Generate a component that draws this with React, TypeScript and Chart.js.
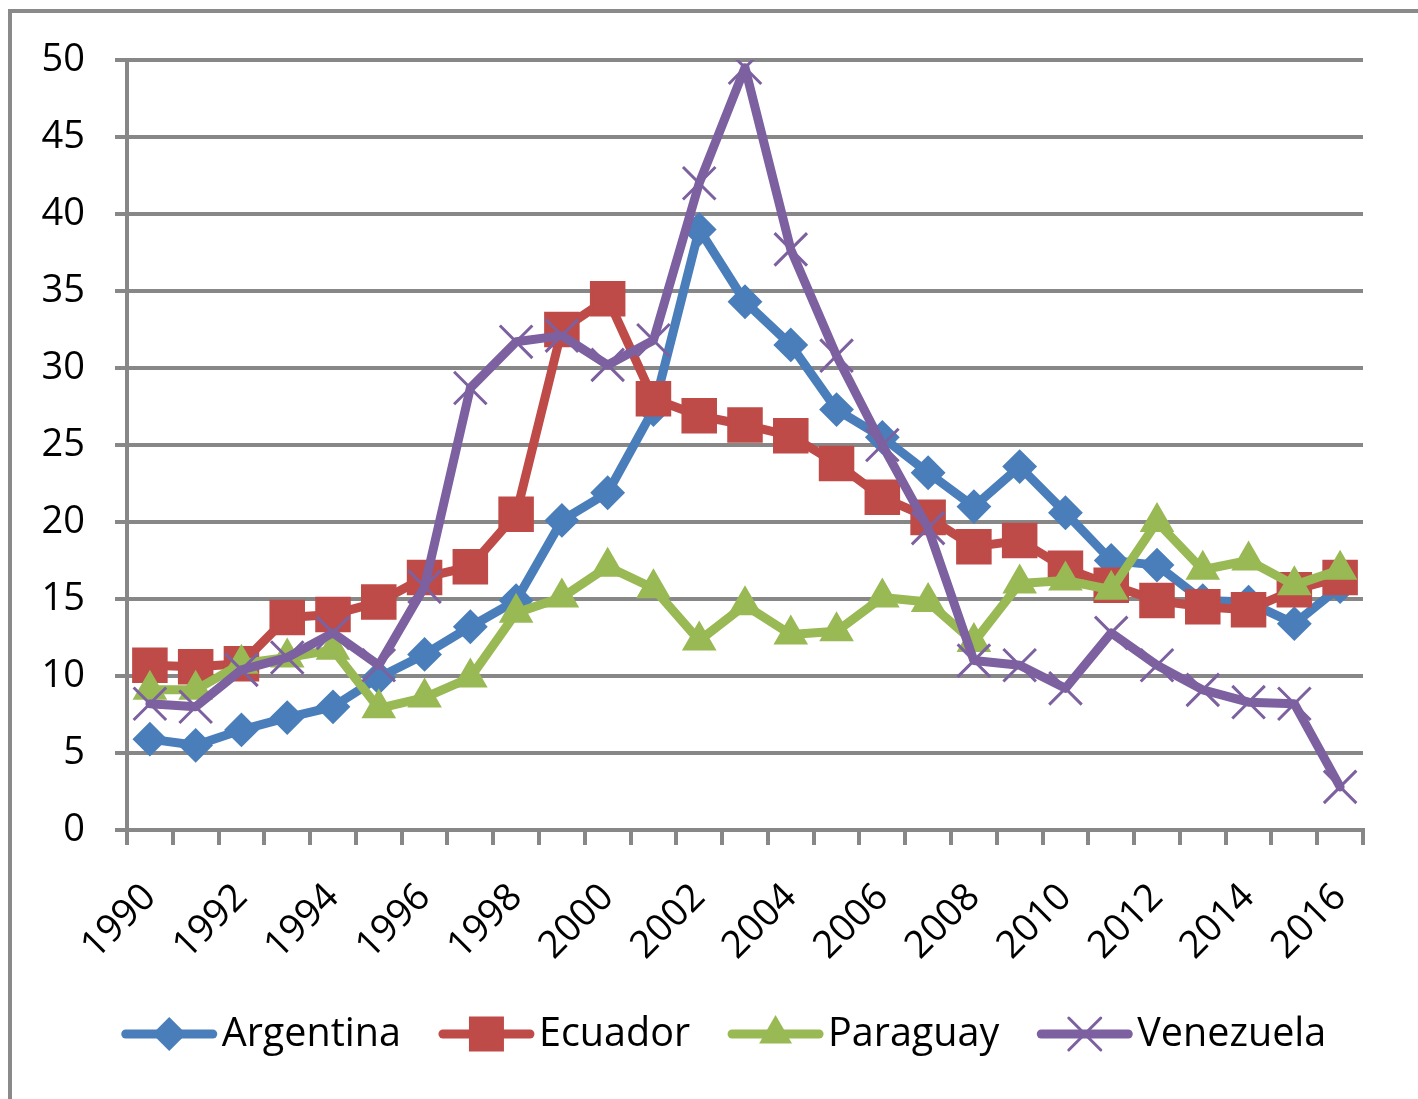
import React, { useEffect, useRef } from 'react';
import { Chart, registerables } from 'chart.js';

Chart.register(...registerables);

const years = ['1990','1991','1992','1993','1994','1995','1996','1997','1998','1999','2000','2001','2002','2003','2004','2005','2006','2007','2008','2009','2010','2011','2012','2013','2014','2015','2016'];

const argentina = [5.9,5.5,6.5,7.3,8.0,9.9,11.4,13.2,14.9,20.1,21.9,27.3,39.0,34.3,31.5,27.3,25.5,23.2,21.0,23.6,20.6,17.5,17.2,14.9,14.8,13.4,15.8];
const ecuador = [10.7,10.6,10.8,13.8,14.0,14.8,16.4,17.1,20.5,32.5,34.5,28.0,26.9,26.3,25.6,23.8,21.6,20.3,18.4,18.8,17.0,15.9,14.9,14.5,14.3,15.6,16.4];
const paraguay = [9.1,9.1,10.8,11.2,11.7,7.9,8.6,9.9,14.1,15.1,17.1,15.7,12.3,14.6,12.7,12.9,15.1,14.8,12.2,16.0,16.2,15.6,20.0,16.9,17.5,15.9,16.9];
const venezuela = [8.2,8.0,10.4,11.2,12.8,10.7,15.8,28.7,31.7,32.1,30.2,31.8,42.0,49.5,37.7,30.8,25.0,19.6,11.0,10.7,9.2,12.8,10.7,9.1,8.3,8.2,2.8];

const seriesNames = ['Argentina', 'Ecuador', 'Paraguay', 'Venezuela'];
const seriesColors = ['#4A7EBB', '#BE4B48', '#98B954', '#7D60A0'];
const seriesStyles = ['diamond', 'square', 'triangle', 'cross'];

const yTicks = [0, 5, 10, 15, 20, 25, 30, 35, 40, 45, 50];

const FONT = '"Open Sans", Lato, sans-serif';
const FONT_SIZE = 38;
const LEGEND_FONT_SIZE = 39.5;
const GRID = '#878787';

function drawMarker(ctx: CanvasRenderingContext2D, style: string, x: number, y: number, color: string) {
  ctx.save();
  ctx.fillStyle = color;
  ctx.strokeStyle = color;
  ctx.beginPath();
  if (style === 'diamond') {
    const r = 17;
    ctx.moveTo(x - r, y); ctx.lineTo(x, y - r); ctx.lineTo(x + r, y); ctx.lineTo(x, y + r);
    ctx.closePath(); ctx.fill();
  } else if (style === 'square') {
    const h = 17.5;
    ctx.rect(x - h, y - h, 2 * h, 2 * h); ctx.fill();
  } else if (style === 'triangle') {
    const r = 19;
    ctx.moveTo(x, y - r);
    ctx.lineTo(x + r * Math.sin(2 * Math.PI / 3), y - r * Math.cos(2 * Math.PI / 3));
    ctx.lineTo(x + r * Math.sin(4 * Math.PI / 3), y - r * Math.cos(4 * Math.PI / 3));
    ctx.closePath(); ctx.fill();
  } else {
    const h = 16;
    ctx.lineWidth = 3;
    ctx.moveTo(x - h, y - h); ctx.lineTo(x + h, y + h);
    ctx.moveTo(x + h, y - h); ctx.lineTo(x - h, y + h);
    ctx.stroke();
  }
  ctx.restore();
}

const legendPlugin = {
  id: 'excelLegend',
  afterDraw(chart: any) {
    const ctx: CanvasRenderingContext2D = chart.ctx;
    ctx.save();
    ctx.font = LEGEND_FONT_SIZE + 'px ' + FONT;
    const lineW = 95, gap = 5, itemGap = 38;
    const widths = seriesNames.map((n) => lineW + gap + ctx.measureText(n).width);
    const total = widths.reduce((a, b) => a + b, 0) + itemGap * (seriesNames.length - 1);
    let x = chart.width / 2 + 15 - total / 2;
    const y = 1034;
    seriesNames.forEach((name, i) => {
      ctx.strokeStyle = seriesColors[i];
      ctx.lineWidth = 9;
      ctx.lineCap = 'round';
      ctx.beginPath();
      ctx.moveTo(x + 4, y);
      ctx.lineTo(x + lineW - 4, y);
      ctx.stroke();
      drawMarker(ctx, seriesStyles[i], x + lineW / 2, y, seriesColors[i]);
      ctx.fillStyle = '#000';
      ctx.textAlign = 'left';
      ctx.textBaseline = 'middle';
      ctx.fillText(name, x + lineW + gap, y + 1);
      x += widths[i] + itemGap;
    });
    ctx.restore();
  },
};

export default function App() {
  const ref = useRef<HTMLCanvasElement | null>(null);

  useEffect(() => {
    if (!ref.current) return;
    const mk = (i: number, data: number[], pointStyle: string, radius: number, pbw: number) => ({
      label: seriesNames[i],
      data,
      borderColor: seriesColors[i],
      backgroundColor: seriesColors[i],
      pointBackgroundColor: seriesColors[i],
      pointBorderColor: seriesColors[i],
      borderWidth: 9,
      borderJoinStyle: 'round' as const,
      borderCapStyle: 'round' as const,
      pointStyle,
      pointRadius: radius,
      pointBorderWidth: pbw,
      pointHoverRadius: radius,
      tension: 0,
      order: 3 - i,
    });
    const chart = new Chart(ref.current, {
      type: 'line',
      data: {
        labels: years,
        datasets: [
          mk(0, argentina, 'rectRot', 16, 2),
          mk(1, ecuador, 'rect', 23, 3),
          mk(2, paraguay, 'triangle', 18, 2),
          mk(3, venezuela, 'crossRot', 23, 3),
        ],
      },
      options: {
        responsive: false,
        animation: false,
        devicePixelRatio: 1,
        layout: { padding: { top: 60, right: 55, left: 0, bottom: 139 } },
        plugins: {
          legend: { display: false },
          tooltip: { enabled: false },
          title: { display: false },
        },
        scales: {
          x: {
            type: 'category',
            offset: true,
            afterFit: (s: any) => { s.height = 130; },
            grid: {
              offset: true,
              drawOnChartArea: false,
              drawTicks: true,
              tickLength: 15,
              color: GRID,
              lineWidth: 4,
            },
            border: { display: true, color: GRID, width: 4 },
            ticks: {
              autoSkip: false,
              minRotation: 45,
              maxRotation: 45,
              padding: 30,
              color: '#000',
              font: { family: FONT, size: FONT_SIZE },
              callback: (_v: any, idx: number) => (idx % 2 === 0 ? years[idx] : ''),
            },
          },
          y: {
            min: 0,
            max: 50,
            afterFit: (s: any) => { s.width = 127; },
            afterBuildTicks: (s: any) => { s.ticks = yTicks.map((v) => ({ value: v })); },
            grid: {
              color: GRID,
              lineWidth: 4,
              drawTicks: true,
              tickLength: 12,
            },
            border: { display: true, color: GRID, width: 4 },
            ticks: {
              padding: 30,
              color: '#000',
              font: { family: FONT, size: FONT_SIZE },
            },
          },
        },
      },
      plugins: [legendPlugin],
    });
    if ((document as any).fonts && (document as any).fonts.load) {
      (document as any).fonts.load(FONT_SIZE + 'px "Open Sans"').then(() => chart.update()).catch(() => {});
    }
    return () => chart.destroy();
  }, []);

  return (
    <div style={{ position: 'absolute', left: 0, top: 0, width: 1418, height: 1099, overflow: 'hidden', background: '#fff' }}>
      <div style={{ position: 'absolute', left: 8, top: 9, width: 1600, height: 1300, borderLeft: '4px solid #8a8a8a', borderTop: '4px solid #8a8a8a' }} />
      <canvas ref={ref} width={1418} height={1099} style={{ position: 'absolute', left: 0, top: 0, width: 1418, height: 1099 }} />
    </div>
  );
}
